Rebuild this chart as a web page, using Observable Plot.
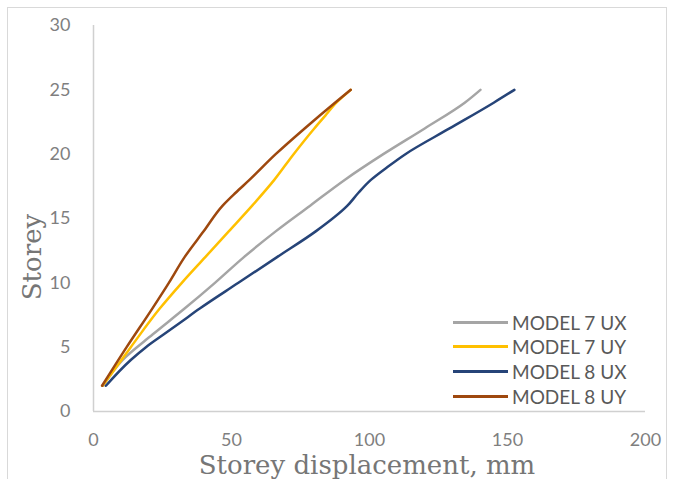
<!DOCTYPE html>
<html>
<head>
<meta charset="utf-8">
<script src="https://cdn.jsdelivr.net/npm/d3@7"></script>
<script src="https://cdn.jsdelivr.net/npm/@observablehq/plot@0.6"></script>
<style>
  html, body { margin: 0; padding: 0; background: #fff; }
  #wrap { position: relative; width: 674px; height: 479px; overflow: hidden; background: #fff; }
  #frame { position: absolute; left: 7px; top: 7px; width: 660px; height: 500px; border: 1px solid #d9d9d9; box-sizing: border-box; }
  #chart { position: absolute; left: 0; top: 0; }
  .title { position: absolute; font-family: "DejaVu Serif", serif; font-size: 26px; color: #767676; white-space: nowrap; }
  #xtitle { left: 367px; top: 465px; transform: translate(-50%, -50%); }
  #ytitle { left: 32px; top: 257px; transform: translate(-50%, -50%) rotate(-90deg); }
  .leg { position: absolute; left: 453px; height: 20px; display: flex; align-items: center; transform: translateY(-50%); font-family: Lato, sans-serif; font-size: 19px; color: #595959; white-space: nowrap; }
  .leg .sw { width: 55px; height: 3px; margin-right: 4px; }
</style>
</head>
<body>
<div id="wrap">
  <div id="frame"></div>
  <div id="chart"></div>
  <div class="title" id="xtitle">Storey displacement, mm</div>
  <div class="title" id="ytitle">Storey</div>
  <div id="legend"></div>
</div>
<script>
// Series names and colours
const seriesNames = ["MODEL 7 UX", "MODEL 7 UY", "MODEL 8 UX", "MODEL 8 UY"];
const seriesColors = ["#A5A5A5", "#FFC000", "#264478", "#9E480E"];

// MODEL 7 UX
const storeys7UX = [2, 4, 6, 8, 10, 12, 14, 16, 18, 20, 22, 24, 25];
const disp7UX    = [3.5, 10.5, 21.5, 33, 44, 54.5, 66, 78.5, 91, 105, 120, 134.5, 140.2];

// MODEL 7 UY
const storeys7UY = [2, 5, 8, 10, 12, 14, 16, 18, 20, 22, 23, 24, 25];
const disp7UY    = [3.3, 13.5, 24, 32, 40.5, 49, 57.5, 65.5, 72.5, 80, 84, 88, 93.2];

// MODEL 8 UX
const storeys8UX = [2, 4, 5, 6, 7, 8, 10, 12, 14, 16, 17, 18, 19, 20, 22, 24, 25];
const disp8UX    = [4.5, 13.5, 19, 25.5, 32, 38.5, 52.5, 66.5, 80.5, 92, 96, 100.5, 106.5, 113, 129, 145, 152.5];

// MODEL 8 UY
const storeys8UY = [2, 5, 8, 10, 12, 14, 16, 17, 18, 20, 22, 24, 25];
const disp8UY    = [3.1, 12, 21.3, 27.3, 33, 39.9, 46.8, 51.5, 56.5, 66, 76.5, 87.5, 93.2];

// Axis ticks
const xTicks = [0, 50, 100, 150, 200];
const yTicks = [0, 5, 10, 15, 20, 25, 30];

const seriesData = [
  [storeys7UX, disp7UX],
  [storeys7UY, disp7UY],
  [storeys8UX, disp8UX],
  [storeys8UY, disp8UY]
];

const rows = [];
seriesData.forEach(([st, dp], i) => {
  st.forEach((s, j) => rows.push({series: seriesNames[i], storey: s, disp: dp[j]}));
});

const chart = Plot.plot({
  width: 674,
  height: 479,
  marginLeft: 93,
  marginRight: 29,
  marginTop: 25,
  marginBottom: 68,
  style: { fontFamily: "Lato, sans-serif", fontSize: "18px", color: "#7f7f7f", background: "transparent" },
  x: { domain: [0, 200] },
  y: { domain: [0, 30] },
  color: { domain: seriesNames, range: seriesColors },
  marks: [
    Plot.ruleX([0], { stroke: "#d0d0d0", strokeWidth: 1.5 }),
    Plot.ruleY([0], { stroke: "#d0d0d0", strokeWidth: 1.5 }),
    Plot.line(rows, { x: "disp", y: "storey", z: "series", stroke: "series", strokeWidth: 2.5, curve: "monotone-y" }),
    Plot.axisX(xTicks, { tickSize: 0, tickPadding: 22, label: null, fill: "#7f7f7f" }),
    Plot.axisY(yTicks, { tickSize: 0, tickPadding: 23, label: null, fill: "#7f7f7f" })
  ]
});
document.getElementById("chart").appendChild(chart);

// Legend
const legendTop = [322, 346, 371, 396];
const legend = document.getElementById("legend");
seriesNames.forEach((name, i) => {
  const row = document.createElement("div");
  row.className = "leg";
  row.style.top = legendTop[i] + "px";
  const sw = document.createElement("span");
  sw.className = "sw";
  sw.style.background = seriesColors[i];
  const tx = document.createElement("span");
  tx.textContent = name;
  row.appendChild(sw);
  row.appendChild(tx);
  legend.appendChild(row);
});
</script>
</body>
</html>
